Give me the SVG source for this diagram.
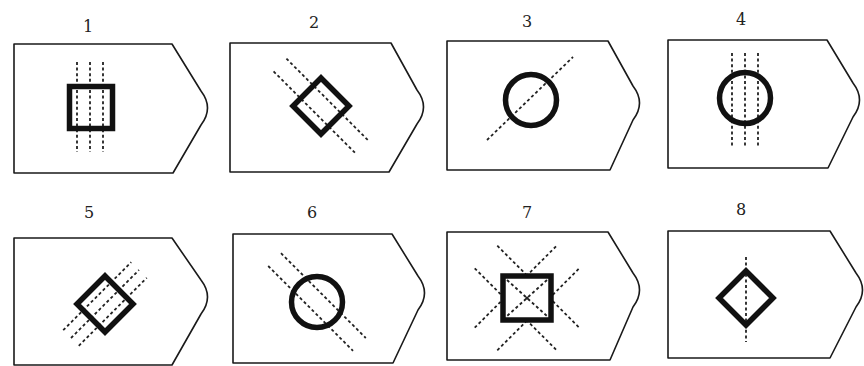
<svg xmlns="http://www.w3.org/2000/svg" width="864" height="366" viewBox="0 0 864 366">
<style>
.tab{fill:#fff;stroke:#1a1a1a;stroke-width:1.6;stroke-linejoin:round}
.thick{fill:none;stroke:#111;stroke-width:5.5;stroke-linejoin:miter}
.thickw{fill:#fff;stroke:#111;stroke-width:5.5}
.dash{fill:none;stroke:#222;stroke-width:1.8;stroke-dasharray:3 2.6}
.lbl{font-family:"DejaVu Serif","Liberation Serif",serif;font-size:16px;fill:#222;text-anchor:middle}
</style>
<rect width="864" height="366" fill="#fff"/>
<g id="panel1">
<text class="lbl" x="88" y="32">1</text>
<path class="tab" d="M14,44 H172 L201,91 Q214,108 201,125 L173,173 H14 Z"/>
<line class="dash" x1="77" y1="62" x2="77" y2="152"/>
<line class="dash" x1="90" y1="62" x2="90" y2="152"/>
<line class="dash" x1="103" y1="62" x2="103" y2="152"/>
<rect class="thick" x="69.5" y="86.5" width="43" height="42"/>
</g>
<g id="panel2">
<text class="lbl" x="314" y="28">2</text>
<path class="tab" d="M230,43 H391 L417,90 Q430,107 417,124 L389,172 H230 Z"/>
<line class="dash" x1="286.4" y1="58.6" x2="368.4" y2="140.6"/>
<line class="dash" x1="273.6" y1="71.4" x2="355.6" y2="153.4"/>
<polygon class="thick" points="321,78 349,106 321,134 293,106"/>
</g>
<g id="panel3">
<text class="lbl" x="527" y="27">3</text>
<path class="tab" d="M447,41 H608 L633,86 Q646,103 633,120 L610,170 H447 Z"/>
<line class="dash" x1="487" y1="140" x2="573" y2="57"/>
<circle class="thick" cx="531" cy="100" r="25.5"/>
</g>
<g id="panel4">
<text class="lbl" x="741" y="25">4</text>
<path class="tab" d="M668,40 H827 L853,83 Q866,100 853,117 L828,168 H668 Z"/>
<line class="dash" x1="732" y1="53" x2="732" y2="147"/>
<line class="dash" x1="745" y1="53" x2="745" y2="147"/>
<line class="dash" x1="758" y1="53" x2="758" y2="147"/>
<circle class="thick" cx="745" cy="98" r="25.5"/>
</g>
<g id="panel5">
<text class="lbl" x="89" y="218">5</text>
<path class="tab" d="M14,238 H172 L201,280 Q214,297 201,314 L172,365 H14 Z"/>
<line class="dash" x1="63.2" y1="330.2" x2="131.2" y2="262.2"/>
<line class="dash" x1="71" y1="338" x2="139" y2="270"/>
<line class="dash" x1="78.8" y1="345.8" x2="146.8" y2="277.8"/>
<polygon class="thick" points="105,276 133,304 105,332 77,304"/>
</g>
<g id="panel6">
<text class="lbl" x="312" y="218">6</text>
<path class="tab" d="M233,234 H392 L418,276 Q431,293 418,310 L393,363 H233 Z"/>
<line class="dash" x1="281" y1="253.2" x2="365.8" y2="338"/>
<line class="dash" x1="268.2" y1="266" x2="353" y2="350.8"/>
<circle class="thick" cx="317" cy="302" r="25.5"/>
</g>
<g id="panel7">
<text class="lbl" x="527" y="218">7</text>
<path class="tab" d="M447,232 H608 L633,273 Q646,290 633,307 L610,360 H447 Z"/>
<line class="dash" x1="497.3" y1="245.7" x2="579.3" y2="327.7"/>
<line class="dash" x1="474.7" y1="268.3" x2="556.7" y2="350.3"/>
<line class="dash" x1="497.3" y1="350.3" x2="579.3" y2="268.3"/>
<line class="dash" x1="474.7" y1="327.7" x2="556.7" y2="245.7"/>
<rect class="thickw" x="503" y="276" width="48" height="44"/>
<line class="dash" x1="507" y1="280" x2="547" y2="316"/>
<line class="dash" x1="547" y1="280" x2="507" y2="316"/>
<circle cx="527" cy="298" r="1.5" fill="#222"/>
</g>
<g id="panel8">
<text class="lbl" x="741" y="215">8</text>
<path class="tab" d="M668,231 H830 L856,273 Q869,290 856,307 L830,358 H668 Z"/>
<line class="dash" x1="746" y1="257" x2="746" y2="342"/>
<polygon class="thick" points="746,271 773,298 746,325 719,298"/>
</g>
</svg>
